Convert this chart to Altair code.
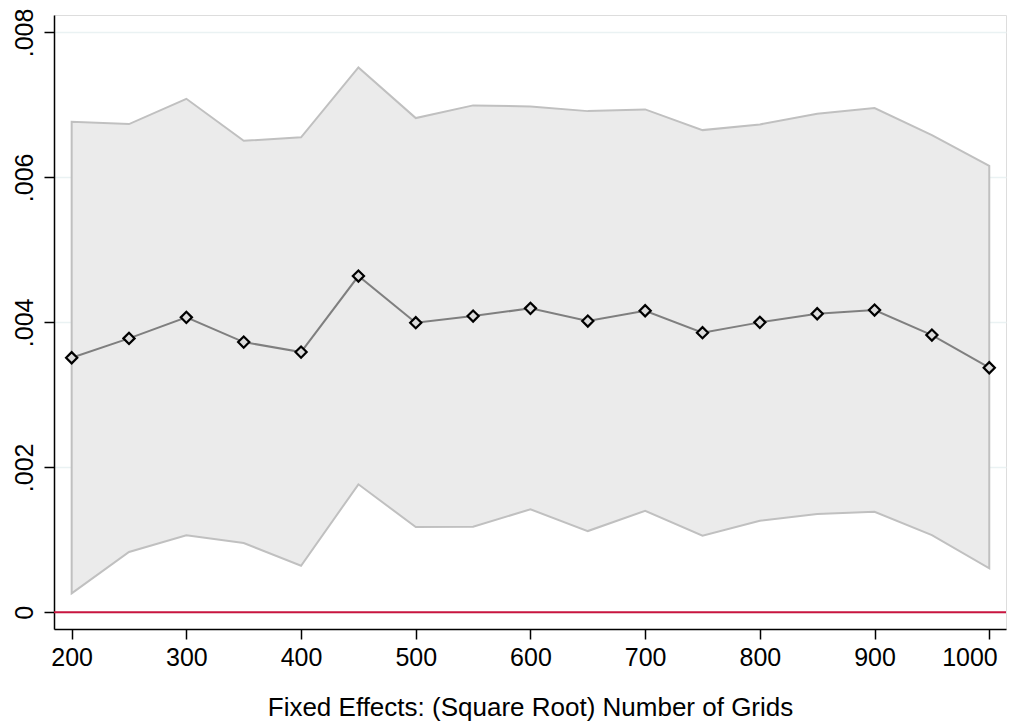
import altair as alt
import pandas as pd

grids = [200, 250, 300, 350, 400, 450, 500, 550, 600, 650, 700, 750, 800, 850, 900, 950, 1000]
coef = [0.003512, 0.003779, 0.004069, 0.003728, 0.003590, 0.004639, 0.003995, 0.004087, 0.004193,
        0.004018, 0.004160, 0.003857, 0.004000, 0.004119, 0.004170, 0.003825, 0.003374]
upper = [0.006767, 0.006735, 0.007084, 0.006505, 0.006552, 0.007517, 0.006818, 0.006993, 0.006979,
         0.006914, 0.006938, 0.006652, 0.006731, 0.006877, 0.006956, 0.006584, 0.006160]
lower = [0.000262, 0.000832, 0.001062, 0.000956, 0.000643, 0.001766, 0.001177, 0.001181, 0.001421,
         0.001121, 0.001401, 0.001057, 0.001264, 0.001356, 0.001388, 0.001066, 0.000607]
x_ticks = [200, 300, 400, 500, 600, 700, 800, 900, 1000]
y_ticks = [0, 0.002, 0.004, 0.006, 0.008]
x_title = "Fixed Effects: (Square Root) Number of Grids"

df = pd.DataFrame({"grids": grids, "coef": coef, "upper": upper, "lower": lower})

FONT = "Liberation Sans"
xscale = alt.Scale(domain=[184.6, 1014.6], nice=False, zero=False)
yscale = alt.Scale(domain=[-0.00023, 0.00824], nice=False, zero=False)

xaxis = alt.Axis(values=x_ticks, title=x_title, grid=False, format="d",
                 labelFontSize=25, titleFontSize=26, labelFont=FONT, titleFont=FONT,
                 labelColor="black", titleColor="black", titleFontWeight="normal",
                 domainColor="black", domainWidth=1.5, tickColor="black", tickWidth=1.5,
                 tickSize=10, labelPadding=6.5, titlePadding=24,
                 labelFlush=17, labelFlushOffset=8)
yaxis = alt.Axis(values=y_ticks, title=None, grid=True, gridColor="#eaf2f3", gridWidth=1.5,
                 labelExpr="datum.value == 0 ? '0' : replace(format(datum.value, '.3f'), '0.', '.')",
                 labelAngle=270, labelAlign="center", labelBaseline="alphabetic",
                 labelFontSize=25, labelFont=FONT, labelColor="black",
                 domainColor="black", domainWidth=1.5, tickColor="black", tickWidth=1.5,
                 tickSize=10, labelPadding=12, labelFlush=False)

base = alt.Chart(df)

area = base.mark_area(color="#ebebeb", stroke="#c0c0c0", strokeWidth=2, opacity=1).encode(
    x=alt.X("grids:Q", scale=xscale, axis=xaxis),
    y=alt.Y("lower:Q", scale=yscale, axis=yaxis),
    y2="upper:Q",
)

line = base.mark_line(color="#7f7f7f", strokeWidth=2).encode(
    x=alt.X("grids:Q", scale=xscale),
    y=alt.Y("coef:Q", scale=yscale),
)

points = base.mark_point(shape="diamond", size=125, filled=False, fill="#dcdcdc", fillOpacity=1,
                         stroke="black", strokeWidth=2.2, opacity=1).encode(
    x=alt.X("grids:Q", scale=xscale),
    y=alt.Y("coef:Q", scale=yscale),
)

zero = alt.Chart(pd.DataFrame({"z": [0]})).mark_rule(color="#c8153f", strokeWidth=2).encode(
    y=alt.Y("z:Q", scale=yscale),
)

chart = alt.layer(area, zero, line, points).properties(
    width=952, height=614,
    autosize=alt.AutoSizeParams(type="none"),
    padding={"left": 46, "top": 7, "right": 8, "bottom": 92},
).configure_view(stroke=None).configure(background="white")

chart.save("out.html", embed_options={"renderer": "svg", "actions": False})
